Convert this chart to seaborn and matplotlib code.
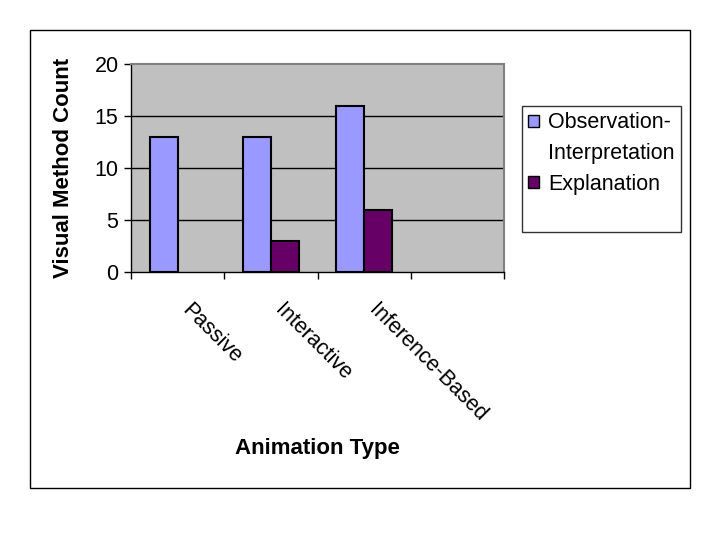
import numpy as np
import pandas as pd
import matplotlib
matplotlib.use("Agg")
import matplotlib.pyplot as plt
import seaborn as sns
from matplotlib.patches import Patch, Rectangle

# values
categories = ["Passive", "Interactive", "Inference-Based"]
series_names = ["Observation-Interpretation", "Explanation"]
obs_counts = [13, 13, 16]
expl_counts = [0, 3, 6]
y_ticks = [0, 5, 10, 15, 20]

colors = ["#9999FF", "#660066"]

df = pd.DataFrame({
    "Animation Type": categories * 2,
    "Series": [series_names[0]] * 3 + [series_names[1]] * 3,
    "Count": obs_counts + expl_counts,
})

sns.set_theme(style="white")
plt.rcParams["font.family"] = ["Liberation Sans", "DejaVu Sans"]
plt.rcParams["text.color"] = "black"
plt.rcParams["axes.labelcolor"] = "black"
plt.rcParams["xtick.color"] = "black"
plt.rcParams["ytick.color"] = "black"

fig = plt.figure(figsize=(7.2, 5.4), dpi=100)
ax = fig.add_axes([131 / 720, 1 - 272 / 540, 373 / 720, 208 / 540])
ax.set_facecolor("#C0C0C0")

# horizontal gridlines behind bars
for v in y_ticks[1:-1]:
    ax.axhline(v, color="black", lw=1, zorder=0.5)

sns.barplot(data=df, x="Animation Type", y="Count", hue="Series",
            palette=colors, width=0.6, edgecolor="black", linewidth=1.5,
            saturation=1, ax=ax, legend=False, zorder=2)
# empty bars (zero counts) leave no mark, as in the original
for p in ax.patches:
    if p.get_height() == 0:
        p.set_linewidth(0)

ax.set_xlim(-0.5, 3.5)
ax.set_ylim(0, 20)
ax.set_yticks(y_ticks)
ax.tick_params(axis="y", length=5, width=1, color="black", left=True,
               labelsize=15.5, pad=4, direction="out")

# category boundary ticks
ax.set_xticks(np.arange(-0.5, 3.6, 1.0), minor=True)
ax.set_xticks(range(len(categories)))
ax.set_xticklabels(categories, rotation=-45, ha="left", va="top",
                   rotation_mode="default")
ax.tick_params(axis="x", which="major", length=0, labelsize=15.5, pad=20)
ax.tick_params(axis="x", which="minor", length=5, width=1, color="black",
               bottom=True, direction="out")

for side in ["left", "bottom"]:
    ax.spines[side].set_color("black")
    ax.spines[side].set_linewidth(1)
for side in ["top", "right"]:
    ax.spines[side].set_color("#808080")
    ax.spines[side].set_linewidth(1.5)

ax.set_xlabel("Animation Type", fontsize=16, fontweight="bold")
ax.set_ylabel("Visual Method Count", fontsize=16, fontweight="bold")
ax.xaxis.set_label_coords(0.5, -0.8)
ax.yaxis.set_label_coords(-0.153, 0.5)

# legend: long name wraps after the hyphen, key sits on the first line
blank = Patch(facecolor="none", edgecolor="none")
obs_first, obs_second = series_names[0].split("-", 1)
handles = [Patch(facecolor=colors[0], edgecolor="black", lw=1), blank,
           Patch(facecolor=colors[1], edgecolor="black", lw=1), blank]
labels = [obs_first + "-", obs_second, series_names[1], " "]
leg = fig.legend(handles, labels, loc="upper left",
                 bbox_to_anchor=(522 / 720, 1 - 106 / 540),
                 frameon=True, fancybox=False, fontsize=15.5,
                 handlelength=0.5, handleheight=0.5, handletextpad=0.4,
                 borderpad=0.3, labelspacing=0.45, borderaxespad=0)
leg.get_frame().set_edgecolor("black")
leg.get_frame().set_linewidth(1)

# outer chart border
fig.patches.append(Rectangle((30 / 720, 1 - 488 / 540), 660 / 720, 458 / 540,
                             transform=fig.transFigure, fill=False,
                             edgecolor="black", lw=1))

fig.savefig("out.png", dpi=100, facecolor="white")
